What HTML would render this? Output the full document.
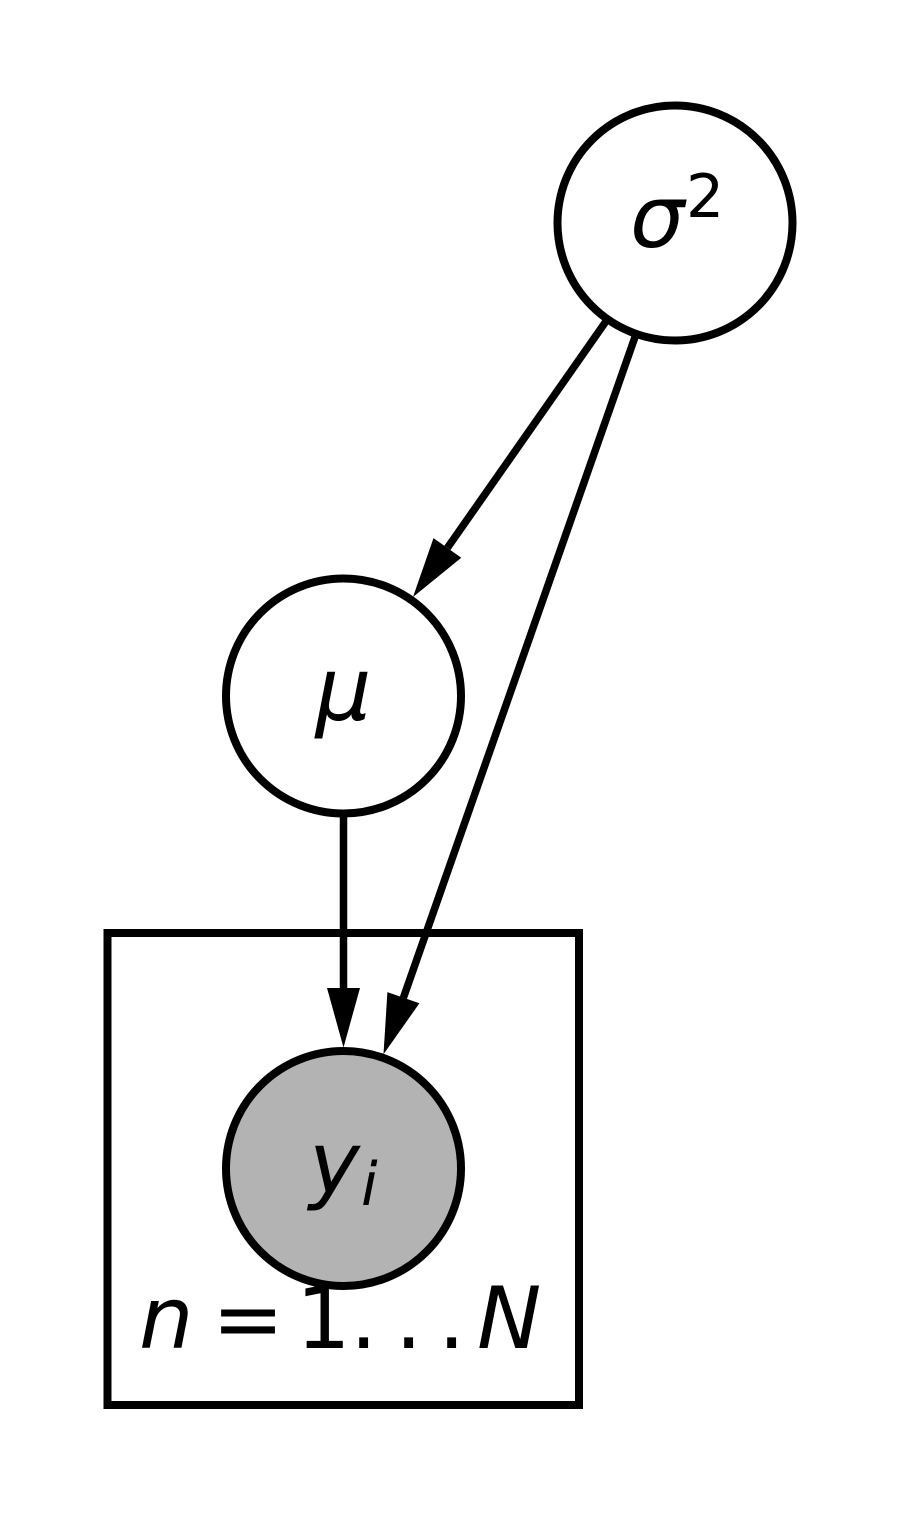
<!DOCTYPE html>
<html><head><meta charset="utf-8"><style>
html,body{margin:0;padding:0;background:#fff;}
svg{display:block;}
text{font-family:"DejaVu Sans","Liberation Sans",sans-serif;fill:#000;}
</style></head><body>
<svg width="899" height="1513" viewBox="0 0 899 1513" xmlns="http://www.w3.org/2000/svg">
<rect x="0" y="0" width="899" height="1513" fill="#fff"/>
<!-- plate -->
<rect x="107.5" y="933" width="471.5" height="472" fill="none" stroke="#000" stroke-width="8"/>
<!-- edges -->
<line x1="605.5" y1="322" x2="447.4" y2="547.9" stroke="#000" stroke-width="7.5"/>
<polygon points="413,597 461.3,557.7 433.5,538.1" fill="#000"/>
<line x1="635" y1="337" x2="403.4" y2="997.7" stroke="#000" stroke-width="7.5"/>
<polygon points="383.5,1054.3 419.4,1003.3 387.4,992.1" fill="#000"/>
<line x1="343.5" y1="817" x2="343.5" y2="990" stroke="#000" stroke-width="7.5"/>
<polygon points="343.5,1047.5 327,988 360,988" fill="#000"/>
<!-- nodes -->
<circle cx="675" cy="223" r="117.5" fill="#fff" stroke="#000" stroke-width="8"/>
<circle cx="343.5" cy="696" r="117.5" fill="#fff" stroke="#000" stroke-width="8"/>
<circle cx="343.5" cy="1168.5" r="117.5" fill="#b3b3b3" stroke="#000" stroke-width="8"/>
<!-- labels -->
<text x="630" y="247" font-size="86" font-style="italic">σ</text>
<text x="686" y="217" font-size="60">2</text>
<text x="343.5" y="720" font-size="88" font-style="italic" text-anchor="middle">μ</text>
<text x="309" y="1193" font-size="86" font-style="italic">y</text>
<text x="361" y="1205" font-size="60" font-style="italic">i</text>
<text x="139" y="1348" font-size="86" font-style="italic">n</text>
<text x="212" y="1348" font-size="86">=</text>
<text x="296" y="1348" font-size="86">1</text>
<text x="350" y="1348" font-size="86">.</text>
<text x="395" y="1348" font-size="86">.</text>
<text x="438" y="1348" font-size="86">.</text>
<text x="477" y="1348" font-size="86" font-style="italic">N</text>
</svg>
</body></html>
